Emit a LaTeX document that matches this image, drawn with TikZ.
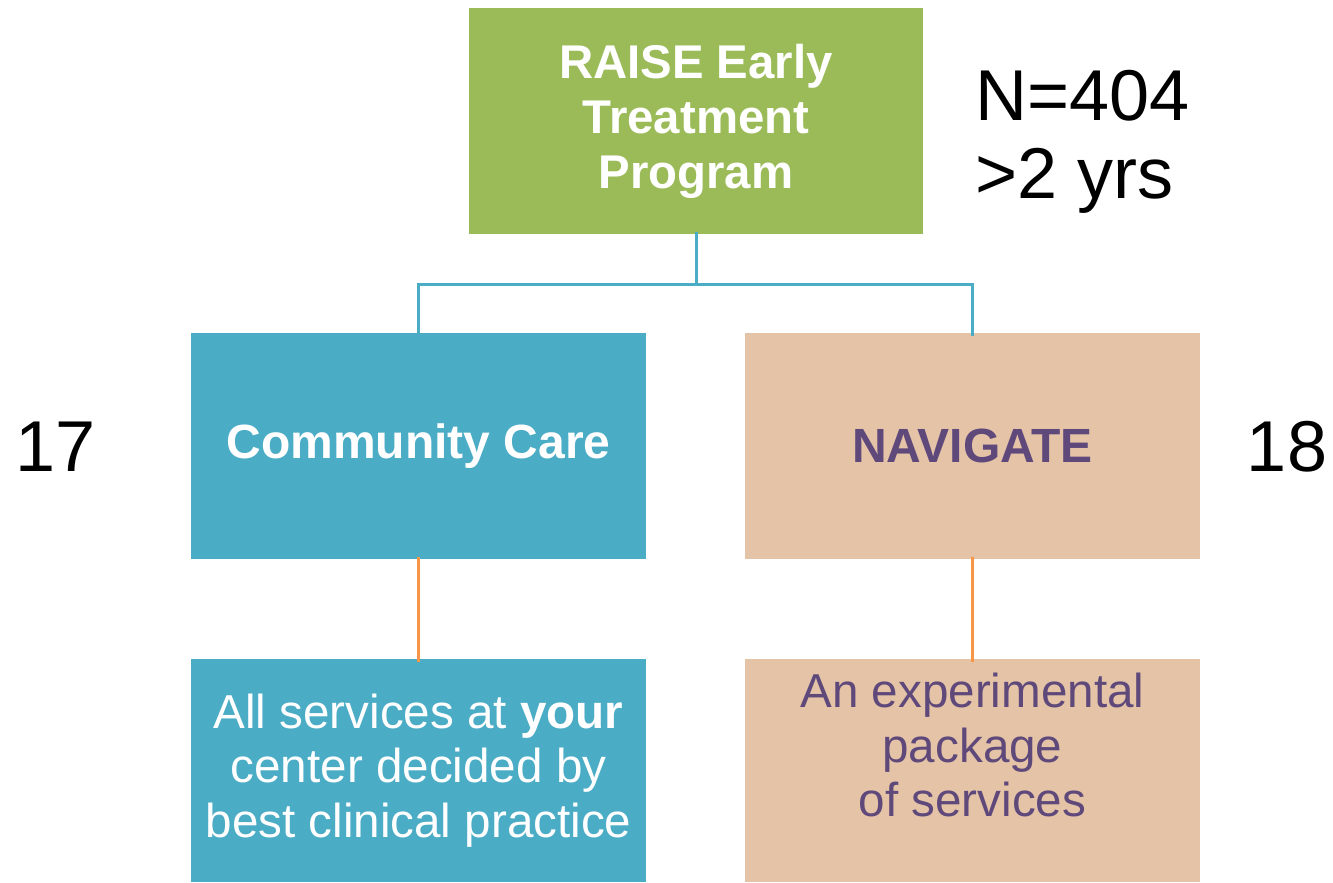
\documentclass[tikz,border=0pt]{standalone}
\usepackage{fontspec}
\setmainfont{Liberation Sans}
\usepackage{tikz}
\definecolor{raisegreen}{RGB}{155,187,89}
\definecolor{careblue}{RGB}{75,172,198}
\definecolor{navtan}{RGB}{228,195,167}
\definecolor{navpurple}{RGB}{95,73,122}
\definecolor{linkorange}{RGB}{247,150,70}
\tikzset{every picture/.style={line width=0.75pt}}

\begin{document}
\begin{tikzpicture}[x=0.75pt,y=0.75pt,yscale=-1,xscale=1,
  box/.style={inner sep=0pt, minimum width=341.25pt, minimum height=169.5pt, align=center},
  headfont/.style={font=\bfseries\fontsize{36}{43}\selectfont},
  bodyfont/.style={font=\fontsize{35.7}{40.8}\selectfont},
  bigfont/.style={font=\fontsize{54}{58}\selectfont},
  bluelink/.style={draw=careblue, line width=2.25pt},
  orangelink/.style={draw=linkorange, line width=2.25pt}]
%set diagram to 1333 x 882
\useasboundingbox (0,0) rectangle (1333,882);

%Shape: Rectangle [id:raise]
\node [box, fill=raisegreen, text=white, minimum width=340.5pt, font=\bfseries\fontsize{35.5}{41.2}\selectfont] (raise) at (696,121) {RAISE Early\\Treatment\\Program};
%Shape: Rectangle [id:cc]
\node [box, fill=careblue, text=white, headfont] (cc) at (418.5,446) {Community Care};
%Shape: Rectangle [id:nav]
\node [box, fill=navtan, text=navpurple, headfont] (nav) at (972.5,446) {NAVIGATE};
%Shape: Rectangle [id:ccinfo]
\node [box, fill=careblue, text=white, bodyfont, minimum height=167.25pt] (ccinfo) at (418.5,770.5) {All services at \textbf{your}\\center decided by\\best clinical practice};
%Shape: Rectangle [id:navinfo]
\node [box, fill=navtan, minimum height=167.25pt] (navinfo) at (972.5,770.5) {};

%Straight Lines [id:split]
\coordinate (split) at (696,284);
\draw [bluelink] ([yshift=-2.25pt]raise.south) -- (split);
\draw [bluelink] ([yshift=2.25pt]cc.north) |- (split) -| ([yshift=2.25pt]nav.north);
%Straight Lines [id:down]
\draw [orangelink] ([yshift=-2.25pt]cc.south) -- ([yshift=2.25pt]ccinfo.north);
\draw [orangelink] ([yshift=-2.25pt]nav.south) -- ([yshift=2.25pt]navinfo.north);

% Text Node
\node [inner sep=0pt, align=center, text=navpurple, bodyfont] (navtext) at (972.5,745) {An experimental\\package\\of services};
% Text Node
\node [anchor=north west, inner sep=0pt, align=left, bigfont] (total) at (975,70) {N=404\\>2 yrs};
% Text Node
\node [inner sep=0pt, bigfont] (ccn) at (56,447) {17};
% Text Node
\node [inner sep=0pt, bigfont] (navn) at (1287,447) {18};

\end{tikzpicture}
\end{document}
